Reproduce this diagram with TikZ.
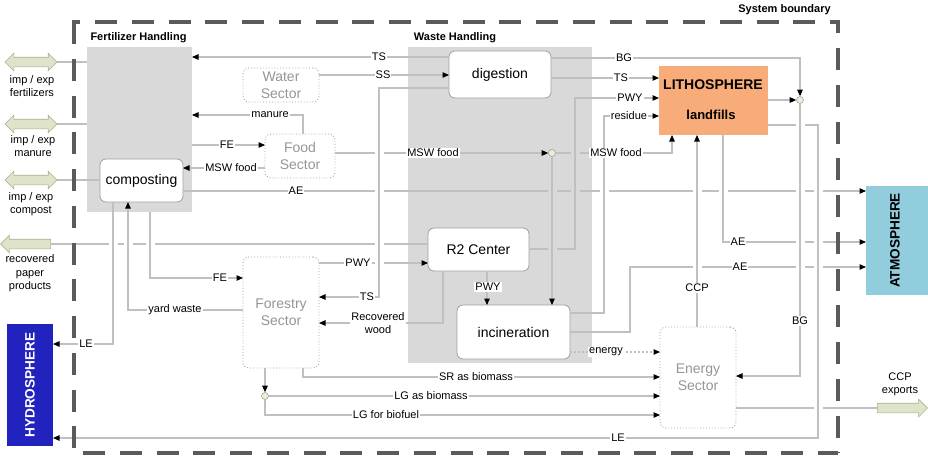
\documentclass[tikz,border=0pt]{standalone}
\usepackage{fontspec}
\setmainfont{Liberation Sans}
\usetikzlibrary{arrows.meta,shapes.arrows}
\definecolor{lg}{RGB}{192,192,192}
\definecolor{boxgray}{RGB}{217,217,217}
\definecolor{procb}{RGB}{160,160,160}
\definecolor{secb}{RGB}{165,165,165}
\definecolor{sect}{RGB}{150,150,150}
\definecolor{litho}{RGB}{247,172,121}
\definecolor{atmo}{RGB}{146,205,221}
\definecolor{hydro}{RGB}{34,34,190}
\definecolor{xfill}{RGB}{222,228,202}
\definecolor{xdraw}{RGB}{168,178,140}
\definecolor{jfill}{RGB}{236,238,218}
\definecolor{bnd}{RGB}{90,90,90}
\newcommand\linejump[3]{\fill[#3] (#1-4.5,#2-2.2) rectangle (#1+4.5,#2+2.2); \draw[conn] (#1,#2-6) -- (#1,#2+6);}
\begin{document}
\begin{tikzpicture}[x=1pt,y=-1pt,
  conn/.style={draw=lg,line width=1.1pt},
  arr/.style={-{Triangle[length=6.5pt,width=5.5pt,color=black]}},
  lab/.style={fill=white,inner sep=1pt,text=black,font=\fontsize{11}{13}\selectfont,align=center},
  grp/.style={fill=boxgray,draw=none,inner sep=0pt,outer sep=0pt},
  proc/.style={draw=procb,fill=white,rounded corners=6pt,line width=0.8pt,inner sep=0pt,outer sep=0pt,font=\fontsize{14}{17}\selectfont},
  sector/.style={draw=secb,dotted,rounded corners=6pt,line width=0.9pt,inner sep=0pt,outer sep=0pt,text=sect,fill=white,font=\fontsize{14}{17}\selectfont,align=center},
  ttl/.style={font=\bfseries\fontsize{11}{13}\selectfont,inner sep=0pt},
  jn/.style={circle,draw=procb,fill=jfill,inner sep=0pt,minimum size=7pt,line width=0.6pt},
  xarr/.style={double arrow,draw=xdraw,fill=xfill,line width=0.6pt,minimum height=52pt,minimum width=0pt,double arrow head extend=4pt,inner xsep=0pt,inner ysep=4.5pt,outer sep=0pt},
  sarr/.style={single arrow,draw=xdraw,fill=xfill,line width=0.6pt,minimum height=50pt,minimum width=0pt,single arrow head extend=4pt,inner xsep=0pt,inner ysep=4.5pt,outer sep=0pt},
  sphere/.style={inner sep=0pt,outer sep=0pt},
  txt/.style={font=\fontsize{11}{13}\selectfont,align=center,inner sep=0pt},
]
\useasboundingbox (0,0) rectangle (928,456);

% group boxes
\node[grp,minimum width=105pt,minimum height=165pt] (fh) at (139.5,129.5) {};
\node[grp,minimum width=184pt,minimum height=316pt] (wh) at (500,205) {};
\node[ttl] (fhT) at (138.5,38) {Fertilizer Handling};
\node[ttl] (whT) at (455,38) {Waste Handling};

% spheres
\node[sphere,fill=litho,minimum width=109pt,minimum height=69pt] (litho) at (713.5,100.5) {};
\node[font=\bfseries\fontsize{14}{16}\selectfont,inner sep=0pt] (lithoT) at (713,85) {LITHOSPHERE};
\node[font=\bfseries\fontsize{13}{15}\selectfont,inner sep=0pt] (landT) at (711,115) {landfills};
\node[sphere,fill=atmo,minimum width=62pt,minimum height=109pt] (atmo) at (897,240.5) {};
\node[rotate=90,font=\bfseries\fontsize{13.6}{15}\selectfont,inner sep=0pt] (atmoT) at (895,240.5) {ATMOSPHERE};
\node[sphere,fill=hydro,minimum width=46pt,minimum height=122pt] (hydro) at (30,385) {};
\node[rotate=90,text=white,font=\bfseries\fontsize{13.6}{15}\selectfont,inner sep=0pt] (hydroT) at (30,385) {HYDROSPHERE};

% processes
\node[proc,minimum width=83pt,minimum height=43pt] (comp) at (141.5,180.5) {composting};
\node[proc,minimum width=102pt,minimum height=47pt] (dig) at (500,74.5) {digestion};
\node[proc,minimum width=101pt,minimum height=43pt] (r2) at (478.5,249.5) {R2 Center};
\node[proc,minimum width=113pt,minimum height=54pt] (incin) at (513.5,332) {incineration};

% sectors
\node[sector,minimum width=76pt,minimum height=34pt] (water) at (281,85) {Water\\Sector};
\node[sector,minimum width=70pt,minimum height=44pt] (food) at (300,156) {Food\\Sector};
\node[sector,minimum width=76pt,minimum height=111pt] (forest) at (281,312.5) {Forestry\\Sector};
\node[sector,minimum width=76pt,minimum height=101pt] (energy) at (698,377.5) {Energy\\Sector};

% junctions
\node[jn] (jn1) at (552,153) {};
\node[jn] (jn2) at (800,100) {};
\node[jn] (jn3) at (265,396) {};

% import / export arrows
\node[xarr] (fertarr) at (31,62) {};
\node[xarr] (manarr) at (31,124) {};
\node[xarr] (comparr) at (31,180) {};
\node[sarr,shape border rotate=180] (paperarr) at (28,244) {};
\node[sarr] (ccparr) at (900,408) {};
\node[txt] (tfert) at (32,86.5) {imp / exp\\fertilizers};
\node[txt] (tman) at (33,146) {imp / exp\\manure};
\node[txt] (tcomp) at (31,204) {imp / exp\\compost};
\node[txt,font=\fontsize{11}{13.5}\selectfont] (tpaper) at (30,273.5) {recovered\\paper\\products};
\node[txt] (tccp) at (900,384) {CCP\\exports};

% connectors
\draw[conn] (fertarr.east) -- (fh.west |- fertarr.east);
\draw[conn] (manarr.east) -- (fh.west |- manarr.east);
\draw[conn] (comparr.east) -- (comp.west |- comparr.east);
\draw[conn] (r2.west |- paperarr.tail) -- (paperarr.tail);
\draw[conn,arr] (comp.east |- 0,191) -- (atmo.west |- 0,191);
\draw[conn,arr] (food.east |- 0,153) -- (jn1);
\draw[conn,arr] (forest.east |- 0,263) -- (r2.west |- 0,263);
\draw[conn,arr] (dig.west |- 0,57) -- (fh.east |- 0,57);
\draw[conn,arr] (water.east |- 0,75) -- (dig.west |- 0,75);
\draw[conn,arr] (dig.west |- 0,88) -- (379,88) -- (379,297) -- (forest.east |- 0,297);
\draw[conn,arr] (food.north -| 303,0) -- (303,115) -- (fh.east |- 0,115);
\draw[conn,arr] (fh.east |- 0,145) -- (food.west |- 0,145);
\draw[conn,arr] (food.west |- 0,168) -- (comp.east |- 0,168);
\draw[conn,arr] (jn1) -- (672,153) -- (litho.south -| 672,0);
\draw[conn,arr] (jn1) -- (incin.north -| jn1);
\draw[conn,arr] (dig.east |- 0,58) -- (800,58) -- (jn2);
\draw[conn,arr] (dig.east |- 0,78) -- (litho.west |- 0,78);
\draw[conn,arr] (r2.east |- 0,249) -- (575,249) -- (575,98) -- (litho.west |- 0,98);
\draw[conn,arr] (incin.east |- 0,313) -- (604,313) -- (604,116) -- (litho.west |- 0,116);
\draw[conn,arr] (litho.east |- jn2) -- (jn2);
\draw[conn,arr] (litho.south -| 723,0) -- (723,242) -- (atmo.west |- 0,242);
\draw[conn,arr] (incin.east |- 0,332) -- (630,332) -- (630,267) -- (atmo.west |- 0,267);
\draw[conn,arr] (energy.north -| 697,0) -- (litho.south -| 697,0);
\draw[conn,arr] (litho.east |- 0,125) -- (818,125) -- (818,438) -- (hydro.east |- 0,438);
\draw[conn,arr] (jn2) -- (800,376) -- (energy.east |- 0,376);
\draw[conn,arr,dash pattern=on 2pt off 2pt] (incin.east |- 0,352) -- (energy.west |- 0,352);
\draw[conn] (energy.east |- ccparr) -- (ccparr.tail);
\draw[conn,arr] (forest.south -| 303,0) -- (303,377) -- (energy.west |- 0,377);
\draw[conn,arr] (forest.south -| jn3) -- (jn3);
\draw[conn,arr] (jn3) -- (energy.west |- jn3);
\draw[conn,arr] (jn3) -- (265,415) -- (energy.west |- 0,415);
\draw[conn,arr] (r2.south -| 443,0) -- (443,323) -- (forest.east |- 0,323);
\draw[conn,arr] (r2.south -| 487,0) -- (incin.north -| 487,0);
\draw[conn,arr] (fh.south -| 150,0) -- (150,278) -- (forest.west |- 0,278);
\draw[conn,arr] (forest.west |- 0,310) -- (128,310) -- (comp.south -| 128,0);
\draw[conn,arr] (comp.south -| 113,0) -- (113,344) -- (hydro.east |- 0,344);

% line jumps
\linejump{379}{153}{white}\linejump{379}{191}{white}\linejump{379}{244}{white}\linejump{379}{263}{white}
\linejump{113}{244}{white}\linejump{128}{244}{white}\linejump{150}{244}{white}
\linejump{552}{191}{boxgray}\linejump{552}{249}{boxgray}\linejump{575}{153}{boxgray}\linejump{575}{191}{boxgray}
\linejump{604}{153}{white}\linejump{604}{191}{white}
\linejump{697}{191}{white}\linejump{697}{267}{white}\linejump{723}{191}{white}
\linejump{800}{125}{white}\linejump{800}{191}{white}\linejump{800}{242}{white}\linejump{800}{267}{white}
\linejump{818}{191}{white}\linejump{818}{242}{white}\linejump{818}{267}{white}\linejump{818}{408}{white}

% labels
\node[lab] (lTS1) at (379,57) {TS};
\node[lab] (lSS) at (383,75) {SS};
\node[lab] (lman) at (270,115) {manure};
\node[lab] (lFE1) at (227,145) {FE};
\node[lab] (lMSW1) at (231,168) {MSW food};
\node[lab] (lMSW2) at (433,153) {MSW food};
\node[lab] (lAE1) at (296,191) {AE};
\node[lab] (lBG1) at (624,58) {BG};
\node[lab] (lTS2) at (621,78) {TS};
\node[lab] (lPWY1) at (630,98) {PWY};
\node[lab] (lres) at (629,116) {residue};
\node[lab] (lMSW3) at (616,153) {MSW food};
\node[lab] (lAE2) at (738,242) {AE};
\node[lab] (lAE3) at (740,267) {AE};
\node[lab] (lCCP) at (697,288) {CCP};
\node[lab] (lBG2) at (800,321) {BG};
\node[lab] (lLE1) at (618,438) {LE};
\node[lab] (lenergy) at (606,352) {energy};
\node[lab] (lSR) at (476,377) {SR as biomass};
\node[lab] (lLG1) at (431,396) {LG as biomass};
\node[lab] (lLG2) at (386,415) {LG for biofuel};
\node[lab] (lPWY2) at (358,263) {PWY};
\node[lab] (lTS3) at (367,297) {TS};
\node[lab] (lwood) at (378,323) {Recovered\\wood};
\node[lab] (lPWY3) at (488,287) {PWY};
\node[lab] (lFE2) at (220,278) {FE};
\node[lab] (lyard) at (175,310) {yard waste};
\node[lab] (lLE2) at (86,344) {LE};

% system boundary
\begin{scope}[draw=bnd,line width=3.3pt]
\draw[dash pattern=on 22pt off 14.75pt,dash phase=14.1pt] (72.35,22) -- (839.65,22);
\draw[dash pattern=on 22pt off 14.75pt,dash phase=9.1pt] (838,20.35) -- (838,453);
\draw[dash pattern=on 22pt off 14.75pt] (74,22) -- (74,453);
\draw[dash pattern=on 22pt off 14.75pt,dash phase=27.75pt] (74,453) -- (838,453);
\end{scope}
\node[ttl] (sysT) at (784.5,10) {System boundary};
\end{tikzpicture}
\end{document}
